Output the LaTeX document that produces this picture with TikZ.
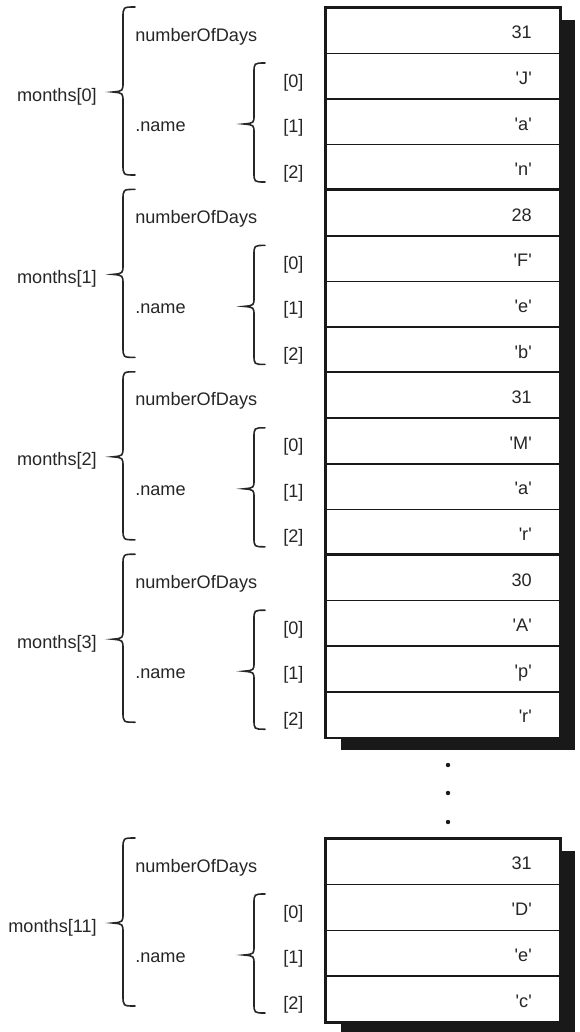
\documentclass[tikz,border=0pt]{standalone}
\usepackage{fontspec}
\setmainfont{Liberation Sans}
\newcommand\qt[1]{\textquotesingle#1\textquotesingle}
\begin{document}
\begin{tikzpicture}[x=0.75pt,y=-0.75pt,
  txt/.style={font=\fontsize{13.6}{16}\selectfont, inner sep=0pt, text=black!85},
  cell/.style={draw=black!90, fill=white, line width=1.2pt, minimum width=175.5pt, anchor=north west, inner sep=0pt},
  shade/.style={fill=black!90},
  brace/.style={line width=1.2pt, draw=black!85, line cap=round},
  dot/.style={fill=black!90}]
\useasboundingbox (0,0) rectangle (579,1032);
\clip (0,0) rectangle (579,1032);
% shadows
\fill[shade] (341,20) rectangle (575,750);
\fill[shade] (341,851) rectangle (575,1034);
\foreach \g/\t/\h/\d/\ca/\cb/\cc/\m in {0/7/45.6/31/J/a/n/0, 1/189.4/45.6/28/F/e/b/1, 2/371.8/45.6/31/M/a/r/2, 3/554.2/45.6/30/A/p/r/3, 4/838/45.75/31/D/e/c/11}{
  \node[cell, minimum height=\h*0.75pt] (n\g) at (325,\t) {};
  \node[cell, minimum height=\h*0.75pt] (a\g) at (325,{\t+\h}) {};
  \node[cell, minimum height=\h*0.75pt] (b\g) at (325,{\t+2*\h}) {};
  \node[cell, minimum height=\h*0.75pt] (c\g) at (325,{\t+3*\h}) {};
  \draw[line width=1.4pt, draw=black!90] (n\g.north west) rectangle (c\g.south east);
  \node[txt, anchor=base east] (vn\g) at (532,{\t+0.5*\h+9}) {\d};
  \node[txt, anchor=base east] (va\g) at (532,{\t+1.5*\h+9}) {\qt{\ca}};
  \node[txt, anchor=base east] (vb\g) at (532,{\t+2.5*\h+9}) {\qt{\cb}};
  \node[txt, anchor=base east] (vc\g) at (532,{\t+3.5*\h+9}) {\qt{\cc}};
  \node[txt, anchor=base west] (nod\g) at (135,{\t+34}) {numberOfDays};
  \node[txt, anchor=base west] (nm\g) at (135,{\t+124}) {.name};
  \node[txt, anchor=base west] (ia\g) at (283,{\t+80}) {[0]};
  \node[txt, anchor=base west] (ib\g) at (283,{\t+125.5}) {[1]};
  \node[txt, anchor=base west] (ic\g) at (283,{\t+171}) {[2]};
  \node[txt, anchor=base east] (mo\g) at (97,{\t+94}) {months[\m]};
  \draw[brace] (135,\t) .. controls (123,\t) .. (123,{\t+11}) -- (123,{\t+75})
     .. controls (123,{\t+84}) .. (113,{\t+85})
     .. controls (123,{\t+86}) .. (123,{\t+95}) -- (123,{\t+157})
     .. controls (123,{\t+168}) .. (135,{\t+168});
  \draw[brace] (265,{\t+56}) .. controls (254,{\t+56}) .. (254,{\t+66}) -- (254,{\t+108})
     .. controls (254,{\t+116}) .. (244,{\t+117})
     .. controls (254,{\t+118}) .. (254,{\t+126}) -- (254,{\t+165})
     .. controls (254,{\t+175}) .. (265,{\t+175});
}
\fill[dot] (448,765) circle (2.2);
\fill[dot] (448,793) circle (2.2);
\fill[dot] (448,822) circle (2.2);
\end{tikzpicture}
\end{document}
